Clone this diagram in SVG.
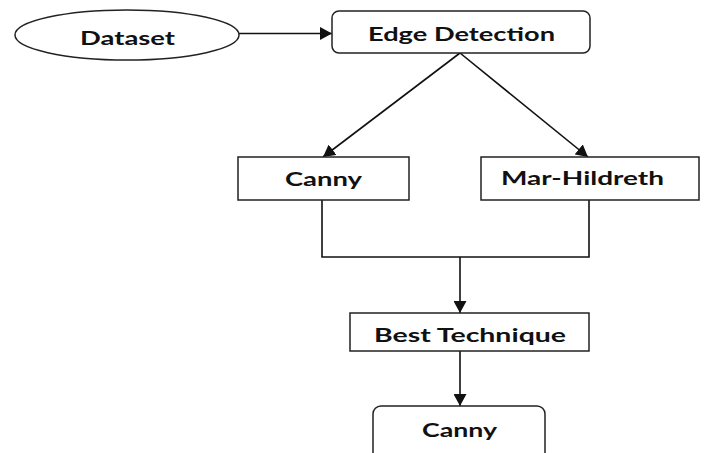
<svg xmlns="http://www.w3.org/2000/svg" width="706" height="453" viewBox="0 0 706 453">
  <style>
    .shape { fill: #ffffff; stroke: #222222; stroke-width: 1.5; }
    .lbl { font-family: Lato, "Open Sans", "Liberation Sans", sans-serif; font-weight: bold; font-size: 19.5px; fill: #111111; text-anchor: middle; }
    .conn { fill: none; stroke: #111111; stroke-width: 1.6; }
  </style>
  <defs>
    <marker id="arr" viewBox="0 0 12 13" refX="12" refY="6.5" markerWidth="12" markerHeight="13" markerUnits="userSpaceOnUse" orient="auto">
      <path d="M0,0 L12,6.5 L0,13 Z" fill="#111111"/>
    </marker>
  </defs>
  <rect width="706" height="453" fill="#ffffff"/>

  <g id="connectors">
    <line class="conn" x1="239" y1="33.5" x2="332" y2="33.5" marker-end="url(#arr)"/>
    <line class="conn" x1="460" y1="53" x2="323" y2="157" marker-end="url(#arr)"/>
    <line class="conn" x1="460" y1="53" x2="588" y2="157" marker-end="url(#arr)"/>
    <polyline class="conn" points="322,200 322,257 589,257 589,200"/>
    <line class="conn" x1="460" y1="257" x2="460" y2="313" marker-end="url(#arr)"/>
    <line class="conn" x1="460" y1="351" x2="460" y2="406" marker-end="url(#arr)"/>
  </g>

  <g id="dataset">
    <ellipse class="shape" cx="127" cy="35" rx="112" ry="25"/>
    <text class="lbl" x="127.5" y="45" textLength="95" lengthAdjust="spacingAndGlyphs">Dataset</text>
  </g>

  <g id="edge-detection">
    <rect class="shape" x="332" y="11" width="258" height="42" rx="7" ry="7"/>
    <text class="lbl" x="461.5" y="41" textLength="187" lengthAdjust="spacingAndGlyphs">Edge Detection</text>
  </g>

  <g id="canny">
    <rect class="shape" x="238" y="157" width="171" height="43"/>
    <text class="lbl" x="323.5" y="186" textLength="77" lengthAdjust="spacingAndGlyphs">Canny</text>
  </g>

  <g id="mar-hildreth">
    <rect class="shape" x="481" y="157" width="218" height="43"/>
    <text class="lbl" x="582.5" y="185" textLength="163" lengthAdjust="spacingAndGlyphs">Mar-Hildreth</text>
  </g>

  <g id="best-technique">
    <rect class="shape" x="350" y="313" width="239" height="38"/>
    <text class="lbl" x="470" y="341.5" textLength="192" lengthAdjust="spacingAndGlyphs">Best Technique</text>
  </g>

  <g id="canny-result">
    <rect class="shape" x="373" y="406" width="172" height="60" rx="8" ry="8"/>
    <text class="lbl" x="459.5" y="437" textLength="75" lengthAdjust="spacingAndGlyphs">Canny</text>
  </g>
</svg>
